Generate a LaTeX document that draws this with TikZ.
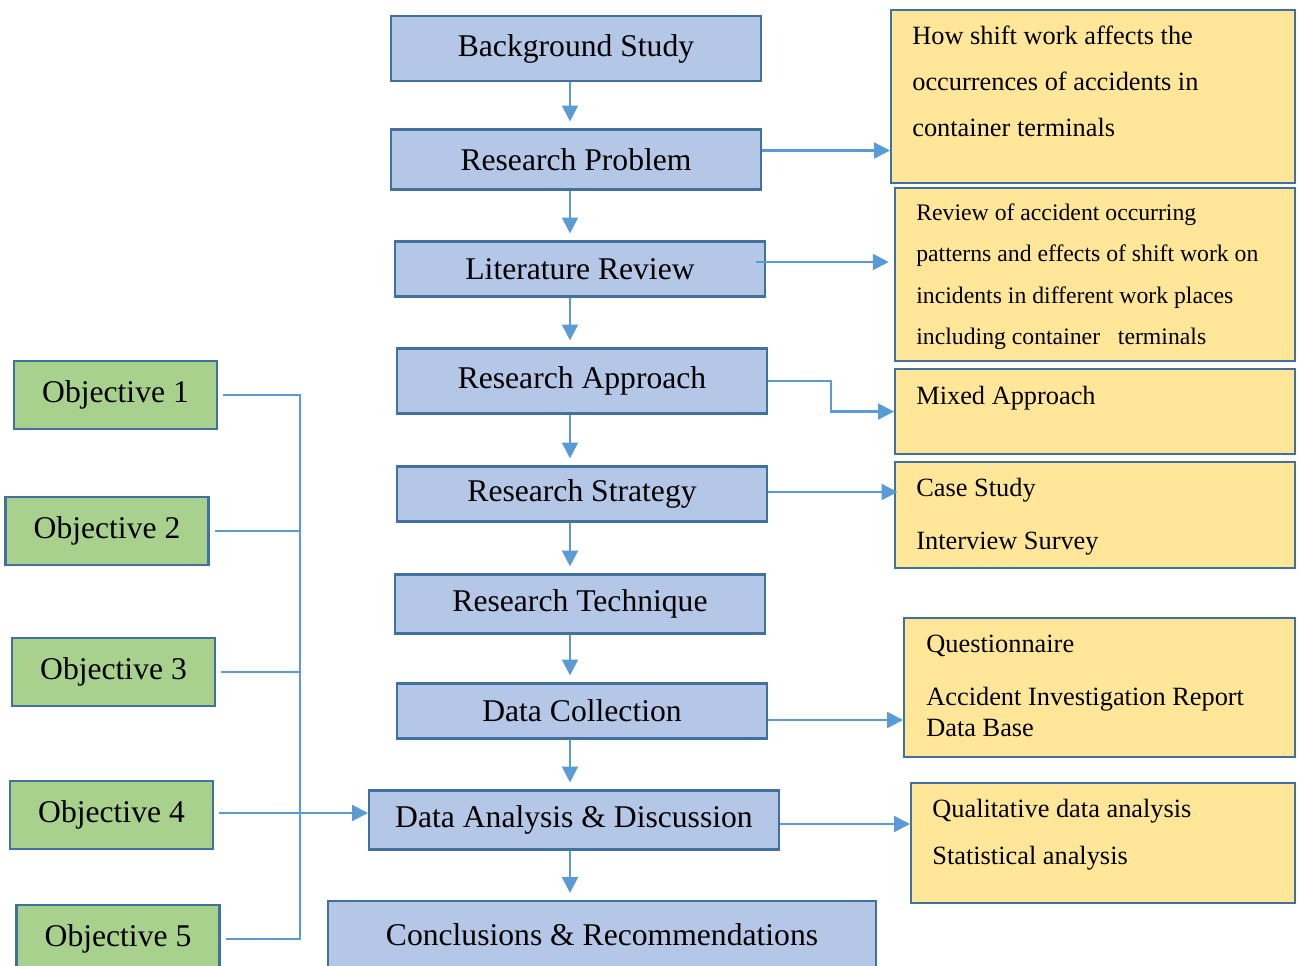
\documentclass[tikz,border=0pt]{standalone}
\usepackage{fontspec}
\setmainfont{Liberation Serif}
\usetikzlibrary{arrows.meta, positioning}

\definecolor{stepfill}{HTML}{B4C7E7}
\definecolor{boxedge}{HTML}{41719C}
\definecolor{notefill}{HTML}{FFE699}
\definecolor{objfill}{HTML}{A9D18E}
\definecolor{flowblue}{HTML}{5B9BD5}

\tikzset{
  stepbox/.style={draw=boxedge, fill=stepfill, line width=1.2pt, minimum width=7.4cm,
                  font=\fontsize{18}{22}\selectfont},
  notebox/.style={draw=boxedge, fill=notefill, line width=1.2pt, anchor=north west},
  objbox/.style={draw=boxedge, fill=objfill, line width=1.2pt, minimum width=4.06cm,
                 minimum height=1.36cm, font=\fontsize{18}{22}\selectfont},
  % base west = baseline of the last line
  notetext/.style={anchor=base west, align=left, inner sep=0pt},
  flow/.style={draw=flowblue, line width=1.3pt, -{Triangle[width=9pt,length=9pt]}},
  objline/.style={draw=flowblue, line width=0.6pt}
}

\begin{document}
\begin{tikzpicture}[x=0.02cm, y=-0.02cm]
	\useasboundingbox (0,0) rectangle (1299,966);

	% main column
	\node[stepbox, minimum height=1.3cm] at (576,48.5) (bg) {Background Study};
	\node[stepbox, minimum height=1.2cm] at (576,159.5) (problem) {Research Problem};
	\node[stepbox, minimum height=1.1cm] at (580,269) (review) {Literature Review};
	\node[stepbox, minimum height=1.3cm] at (582,381) (approach) {Research Approach};
	\node[stepbox, minimum height=1.1cm] at (582,494) (strategy) {Research Strategy};
	\node[stepbox, minimum height=1.18cm] at (580,604) (technique) {Research Technique};
	\node[stepbox, minimum height=1.1cm] at (582,711) (collection) {Data Collection};
	\node[stepbox, minimum height=1.18cm, minimum width=8.2cm] at (574,820) (analysis) {Data Analysis \& Discussion};
	\node[stepbox, minimum height=1.36cm, minimum width=10.96cm] at (602,935) (conclusions) {Conclusions \& Recommendations};

	\coordinate (spine) at (570,0);
	\draw[flow, shorten >=4pt] (bg.south -| spine) -- (problem.north -| spine);
	\draw[flow, shorten >=4pt] (problem.south -| spine) -- (review.north -| spine);
	\draw[flow, shorten >=4pt] (review.south -| spine) -- (approach.north -| spine);
	\draw[flow, shorten >=4pt] (approach.south -| spine) -- (strategy.north -| spine);
	\draw[flow, shorten >=4pt] (strategy.south -| spine) -- (technique.north -| spine);
	\draw[flow, shorten >=4pt] (technique.south -| spine) -- (collection.north -| spine);
	\draw[flow, shorten >=4pt] (collection.south -| spine) -- (analysis.north -| spine);
	\draw[flow, shorten >=4pt] (analysis.south -| spine) -- (conclusions.north -| spine);

	% notes on the right
	\node[notebox, minimum width=8.08cm, minimum height=3.46cm] at (890,9) (why) {};
	\node[notetext, font=\fontsize{15}{26.2}\selectfont] at (912,137) (whytext)
		{How shift work affects the\\occurrences of accidents in\\container terminals};
	\node[notebox, minimum width=8cm, minimum height=3.46cm] at (894,187) (lit) {};
	\node[notetext, font=\fontsize{13.5}{23.7}\selectfont] at (916,345) (littext)
		{Review of accident occurring\\patterns and effects of shift work on\\incidents in different work places\\including container~~~terminals};
	\node[notebox, minimum width=8cm, minimum height=1.7cm] at (894,368) (mixed) {};
	\node[notetext, font=\fontsize{15}{18}\selectfont] at (916,404) (mixedtext) {Mixed Approach};
	\node[notebox, minimum width=8cm, minimum height=2.12cm] at (894,461) (cases) {};
	\node[notetext, font=\fontsize{15}{29.6}\selectfont] at (916,549) (casestext)
		{Case Study\\Interview Survey};
	\node[notebox, minimum width=7.82cm, minimum height=2.78cm] at (903,617) (sources) {};
	\node[notetext, font=\fontsize{15}{17.1}\selectfont] at (926,736) (sourcestext)
		{Questionnaire\\[13.6pt]Accident Investigation Report\\Data Base};
	\node[notebox, minimum width=7.68cm, minimum height=2.4cm] at (910,782) (methods) {};
	\node[notetext, font=\fontsize{15}{26.2}\selectfont] at (932,864) (methodstext)
		{Qualitative data analysis\\Statistical analysis};

	\draw[flow] (problem.east) ++(0,-9) coordinate (p) -- (p -| why.west);
	\draw[flow] (review.east) ++(-10,-7) coordinate (r) -- ([xshift=-3pt]r -| lit.west);
	\draw[flow] (approach.east) -- ++(63,0) |- (mixed.west);
	\draw[flow] (strategy.east) ++(0,-2) coordinate (s) -- ([xshift=2pt]s -| cases.west);
	\draw[flow] (collection.east) ++(0,9) coordinate (c) -- (c -| sources.west);
	\draw[flow] (analysis.east) ++(0,4) coordinate (a) -- (a -| methods.west);

	% objectives feeding the analysis
	\node[objbox] at (115.5,395) (obj1) {Objective 1};
	\node[objbox] at (107,531) (obj2) {Objective 2};
	\node[objbox] at (113.5,672) (obj3) {Objective 3};
	\node[objbox] at (111.5,815) (obj4) {Objective 4};
	\node[objbox] at (118,939) (obj5) {Objective 5};

	\coordinate (join) at (300,813);
	\draw[objline, shorten <=3pt] (obj1.east) -| (join);
	\draw[objline, shorten <=3pt] (obj2.east) -| (join);
	\draw[objline, shorten <=3pt] (obj3.east) -| (join);
	\draw[objline, shorten <=3pt] (obj4.east |- join) -- (join);
	\draw[objline, shorten <=3pt] (obj5.east) -| (join);
	\draw[flow] (join) -- (join -| analysis.west);
\end{tikzpicture}
\end{document}
